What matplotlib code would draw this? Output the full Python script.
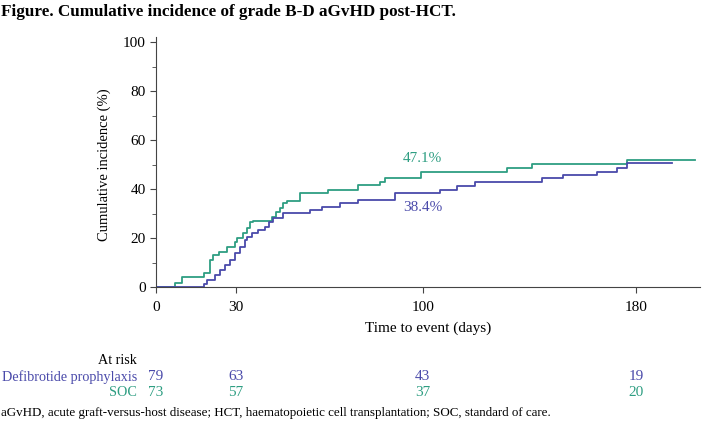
import numpy as np
import matplotlib
matplotlib.use("Agg")
import matplotlib.pyplot as plt
import matplotlib.transforms as mtransforms
from matplotlib.ticker import MultipleLocator

plt.rcParams['font.family'] = ['Liberation Serif', 'DejaVu Serif']

# step curves (day, cumulative incidence %)
soc_days = [0, 7.1, 9.9, 18.1, 20.2, 21.5, 23.5, 26.5, 29.6, 30.5, 32.7, 34.0, 35.2, 36.5,
            43.6, 45.0, 46.6, 47.8, 49.0, 54.0, 64.6, 75.9, 84.0, 86.0, 99.5,
            131.5, 140.9, 176.5, 202.0]
soc_inc = [0, 1.6, 4.1, 5.7, 11.1, 13.2, 14.5, 16.6, 18.6, 20.0, 22.0, 24.1, 26.8, 27.2,
           28.8, 30.9, 32.2, 34.3, 35.4, 38.4, 39.7, 41.8, 43.1, 44.5, 47.1,
           48.8, 50.3, 51.9, 51.9]

dfp_days = [0, 18.1, 19.0, 22.1, 24.0, 25.9, 27.7, 29.6, 31.5, 33.4, 34.2, 35.9, 38.4,
            40.9, 42.2, 44.0, 47.7, 57.7, 62.1, 69.0, 75.9, 89.6,
            106.5, 112.7, 119.6, 144.6, 152.7, 165.2, 172.7, 176.5, 193.4]
dfp_inc = [0, 1.2, 3.0, 5.0, 7.0, 9.1, 11.1, 13.9, 16.6, 19.3, 20.5, 22.0, 23.4,
           24.8, 26.8, 28.2, 30.2, 31.6, 32.9, 34.3, 35.6, 38.4,
           39.7, 41.3, 42.8, 44.5, 45.8, 47.2, 48.5, 50.6, 50.6]

risk_days = [0, 30, 100, 180]
dfp_risk = [79, 63, 43, 19]
soc_risk = [73, 57, 37, 20]

col_soc = '#2e9e82'
col_dfp = '#4a4aaa'

fig = plt.figure(figsize=(7.03, 4.28), dpi=100)
ax = fig.add_axes([156 / 703, 1 - 287.3 / 428, 544 / 703, 250 / 428])

ax.step(soc_days, soc_inc, where='post', color=col_soc, lw=1.3)
ax.step(dfp_days, dfp_inc, where='post', color=col_dfp, lw=1.3)

ax.set_xlim(0, 204)
ax.set_ylim(0, 102)
ax.spines['top'].set_visible(False)
ax.spines['right'].set_visible(False)
ax.spines['left'].set_color('#444444')
ax.spines['bottom'].set_color('#444444')
ax.set_xticks(risk_days)
ax.set_yticks([0, 20, 40, 60, 80, 100])
ax.yaxis.set_minor_locator(MultipleLocator(10))
ax.tick_params(axis='both', labelsize=11, color='#444444', length=4)
ax.tick_params(axis='x', pad=6)
ax.tick_params(axis='y', which='minor', length=3, color='#444444')
ax.set_xlabel('Time to event (days)', fontsize=11)
ax.xaxis.set_label_coords(0.5, -0.135)
fig.text(104 / 703, 1 - 165 / 428, 'Cumulative incidence (%)', rotation=90,
         ha='center', va='center', fontsize=10.5)

ax.text(100, 52.5, '47.1%', color=col_soc, ha='center', va='center', fontsize=11)
ax.text(100, 32.5, '38.4%', color=col_dfp, ha='center', va='center', fontsize=11)

fig.text(0.002, 1 - 16 / 428, 'Figure. Cumulative incidence of grade B-D aGvHD post-HCT.',
         fontsize=12.3, fontweight='bold', va='baseline', ha='left')

# at-risk table
trans = mtransforms.blended_transform_factory(ax.transData, fig.transFigure)
lab_x = 137 / 703
fig.text(lab_x, 1 - 361 / 428, 'At risk', ha='right', va='center', fontsize=10.2)
fig.text(lab_x, 1 - 377 / 428, 'Defibrotide prophylaxis', ha='right', va='center',
         fontsize=10.2, color=col_dfp)
fig.text(lab_x, 1 - 393 / 428, 'SOC', ha='right', va='center', fontsize=10.2, color=col_soc)
for d, n1, n2 in zip(risk_days, dfp_risk, soc_risk):
    ax.text(d, 1 - 377 / 428, str(n1), transform=trans, ha='center', va='center',
            fontsize=11, color=col_dfp)
    ax.text(d, 1 - 393 / 428, str(n2), transform=trans, ha='center', va='center',
            fontsize=11, color=col_soc)

fig.text(0.002, 1 - 413 / 428,
         'aGvHD, acute graft-versus-host disease; HCT, haematopoietic cell transplantation; SOC, standard of care.',
         fontsize=9.4, ha='left', va='center')

fig.savefig('out.png', dpi=100)
